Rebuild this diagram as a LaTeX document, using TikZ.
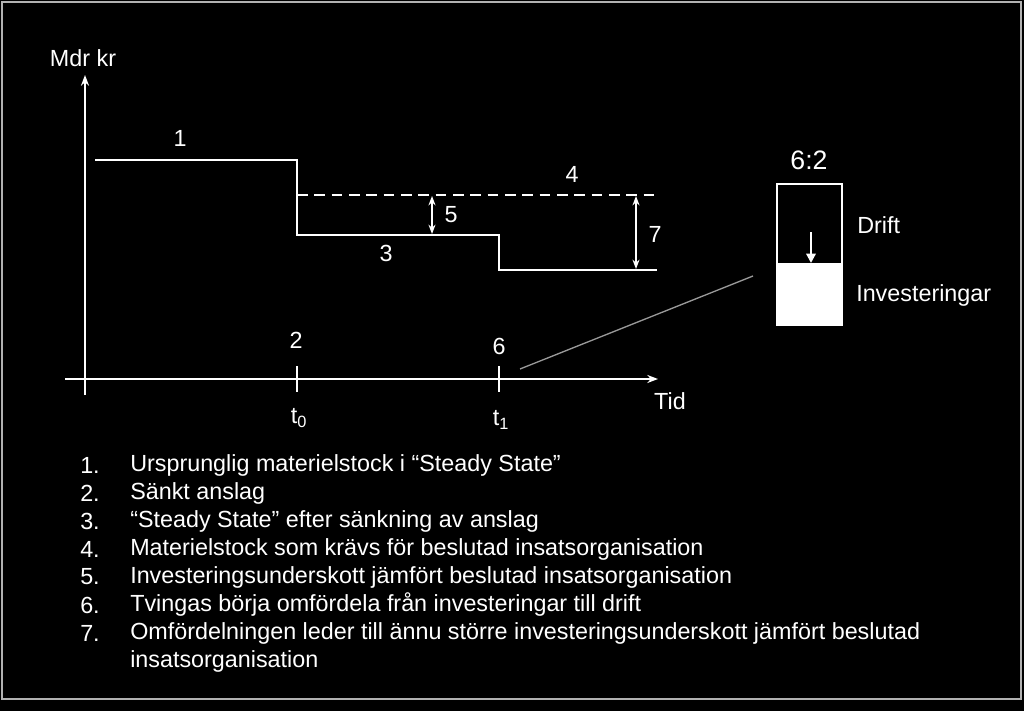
\documentclass[tikz,border=0pt]{standalone}
\usepackage{fontspec}
\setmainfont{Liberation Sans}
\usetikzlibrary{arrows.meta}
\begin{document}
\begin{tikzpicture}[x=0.75pt,y=-0.75pt,
  every node/.style={text=white,font=\fontsize{17.5}{20}\selectfont},
  line/.style={draw=white,line width=1.6pt},
  item/.style={anchor=west,inner sep=0pt}]
  %background and frame
  \fill[black] (0,0) rectangle (1024,711);
  \draw[gray!60,line width=1pt] (2,2) rectangle (1021,699);

  %axes
  \coordinate (yb) at (85,395);
  \coordinate (yt) at (85,75);
  \coordinate (xl) at (65,379);
  \coordinate (xr) at (658,379);
  \draw[line,-{Stealth[length=8pt]}] (yb) -- (yt);
  \draw[line,-{Stealth[length=8pt]}] (xl) -- (xr);
  \node (mdr) at (83,58) {Mdr kr};
  \node (tid) at (670,401) {Tid};

  %ticks
  \foreach \x in {297,499}
     \draw[line] (\x,366) -- (\x,392);
  \node (two) at (296,340) {2};
  \node (six) at (499,346) {6};
  \node (t0) at (299,418) {t\textsubscript{0}};
  \node (t1) at (501,420) {t\textsubscript{1}};

  %draw levels
  \draw[line] (95,160) -- (297,160) -- (297,235) -- (499,235) -- (499,270) -- (657,270);
  \draw[line,dashed,dash pattern=on 8pt off 5pt] (297,195) -- (657,195);
  \draw[line,{Stealth[length=7pt]}-{Stealth[length=7pt]}] (432,196) -- (432,234);
  \draw[line,{Stealth[length=7pt]}-{Stealth[length=7pt]}] (636,196) -- (636,269);
  \node (one) at (180,138) {1};
  \node (four) at (572,174) {4};
  \node (three) at (386,253) {3};
  \node (five) at (451,215) {5};
  \node (seven) at (655,234) {7};

  %box
  \draw[gray!80,line width=1pt] (520,369) -- (753,276);
  \fill[white] (777,263) rectangle (842,325);
  \draw[line] (777,184) rectangle (842,325);
  \draw[line,-{Triangle[length=7pt,width=7pt]}] (811,232) -- (811,263);
  \node (ratio) at (809,160) {\fontsize{20}{22}\selectfont 6:2};
  \node[item] (drift) at (857,225) {Drift};
  \node[item] (inv) at (856,295) {Investeringar};

  %list
  \foreach \i/\t [count=\k] in {1/Ursprunglig materielstock i “Steady State”,
      2/Sänkt anslag,
      3/“Steady State” efter sänkning av anslag,
      4/Materielstock som krävs för beslutad insatsorganisation,
      5/Investeringsunderskott jämfört beslutad insatsorganisation,
      6/Tvingas börja omfördela från investeringar till drift,
      7/Omfördelningen leder till ännu större investeringsunderskott jämfört beslutad}
  {
     \node[item] (n\i) at (80,437+28*\k) {\i.};
     \node[item] (l\i) at (130,437+28*\k) {\t};
  }
  \node[item] (l8) at (130,661) {insatsorganisation};
\end{tikzpicture}
\end{document}
